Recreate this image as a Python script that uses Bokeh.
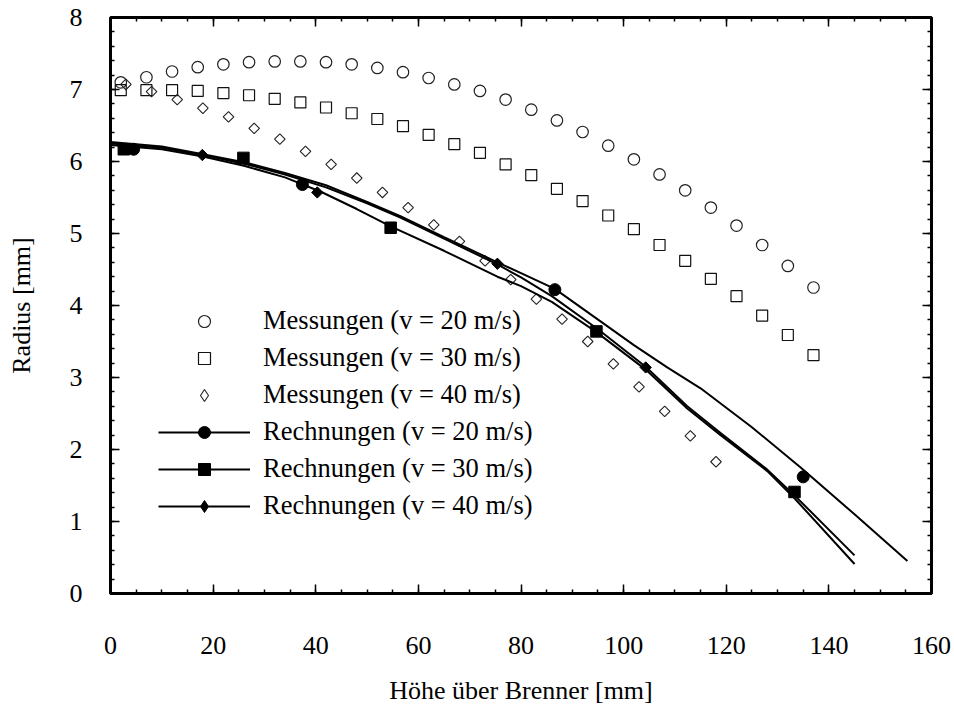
import numpy as np
from bokeh.plotting import figure
from bokeh.models import (Range1d, LinearAxis, SingleIntervalTicker, Legend, LegendItem,
                          CustomJSTickFormatter)
from bokeh.embed import file_html
from bokeh.resources import INLINE

FONT = "Liberation Serif"

# ---- data: measurements (Messungen) ----
m20_x = [2, 7, 12, 17, 22, 27, 32, 37, 42, 47, 52, 57, 62, 67, 72, 77, 82, 87, 92, 97,
         102, 107, 112, 117, 122, 127, 132, 137]
m20_y = [7.10, 7.17, 7.25, 7.31, 7.35, 7.38, 7.39, 7.39, 7.38, 7.35, 7.30, 7.24, 7.16, 7.07,
         6.98, 6.86, 6.72, 6.57, 6.41, 6.22, 6.03, 5.82, 5.60, 5.36, 5.11, 4.84, 4.55, 4.25]

m30_x = [2, 7, 12, 17, 22, 27, 32, 37, 42, 47, 52, 57, 62, 67, 72, 77, 82, 87, 92, 97,
         102, 107, 112, 117, 122, 127, 132, 137]
m30_y = [6.99, 6.99, 6.99, 6.98, 6.95, 6.92, 6.87, 6.82, 6.75, 6.67, 6.59, 6.49, 6.37, 6.24,
         6.12, 5.96, 5.81, 5.62, 5.45, 5.25, 5.06, 4.84, 4.62, 4.37, 4.13, 3.86, 3.59, 3.31]

m40_x = [3, 8, 13, 18, 23, 28, 33, 38, 43, 48, 53, 58, 63, 68, 73, 78, 83, 88, 93, 98,
         103, 108, 113, 118]
m40_y = [7.07, 6.97, 6.86, 6.74, 6.62, 6.46, 6.31, 6.14, 5.96, 5.77, 5.57, 5.36, 5.12, 4.89,
         4.62, 4.36, 4.09, 3.81, 3.50, 3.19, 2.87, 2.53, 2.19, 1.83]

# ---- data: calculations (Rechnungen), curves ----
r20_x = [0, 10, 18, 26, 34, 42, 50, 56.5, 65, 75.4, 80, 86.6, 95.5, 102, 108.5, 115, 125,
         134.5, 145, 155.3]
r20_y = [6.27, 6.21, 6.10, 5.99, 5.84, 5.67, 5.44, 5.24, 4.95, 4.60, 4.45, 4.23, 3.78, 3.45,
         3.14, 2.85, 2.31, 1.75, 1.10, 0.45]

r30_x = [0, 10, 18, 26, 34, 41, 48, 54.6, 65, 75.4, 80, 86, 94.7, 104.3, 112.4, 118.9, 128,
         133.2, 145]
r30_y = [6.23, 6.17, 6.07, 5.94, 5.78, 5.58, 5.34, 5.10, 4.76, 4.40, 4.27, 4.05, 3.63, 3.11,
         2.57, 2.20, 1.70, 1.33, 0.41]

r40_x = [0, 10, 18, 26, 34, 42, 50, 56.5, 65, 75.4, 80, 86, 95, 104.3, 112.4, 118.9, 128,
         133.2, 145]
r40_y = [6.25, 6.19, 6.09, 5.97, 5.82, 5.64, 5.42, 5.22, 4.93, 4.57, 4.39, 4.13, 3.67, 3.15,
         2.60, 2.23, 1.72, 1.37, 0.53]

# ---- data: calculation marker points ----
k20_x = [4.5, 37.4, 86.6, 135.0]
k20_y = [6.17, 5.68, 4.22, 1.62]
k30_x = [2.6, 25.9, 54.6, 94.7, 133.3]
k30_y = [6.17, 6.05, 5.08, 3.64, 1.41]
k40_x = [17.9, 40.3, 75.4, 104.3]
k40_y = [6.09, 5.57, 4.58, 3.14]

labels = ["Messungen (v = 20 m/s)", "Messungen (v = 30 m/s)", "Messungen (v = 40 m/s)",
          "Rechnungen (v = 20 m/s)", "Rechnungen (v = 30 m/s)", "Rechnungen (v = 40 m/s)"]

x_title = "Höhe über Brenner [mm]"
y_title = "Radius [mm]"

p = figure(frame_width=821, frame_height=576, x_range=Range1d(0, 160), y_range=Range1d(0, 8),
           output_backend="svg", toolbar_location=None,
           min_border_left=110, min_border_right=20, min_border_top=17, min_border_bottom=112)
p.outline_line_color = "black"
p.outline_line_width = 3
p.xgrid.grid_line_color = None
p.ygrid.grid_line_color = None
p.background_fill_color = "white"
p.border_fill_color = "white"

def style_axis(ax):
    ax.axis_line_color = None
    ax.major_tick_in = 9
    ax.major_tick_out = 0
    ax.minor_tick_in = 4
    ax.minor_tick_out = 0
    ax.major_tick_line_color = "black"
    ax.minor_tick_line_color = "black"
    ax.major_tick_line_width = 1.5
    ax.minor_tick_line_width = 1.5
    ax.major_label_text_font = FONT
    ax.major_label_text_font_size = "26px"
    ax.major_label_text_color = "black"
    ax.axis_label_text_font = FONT
    ax.axis_label_text_font_size = "26px"
    ax.axis_label_text_font_style = "normal"
    ax.axis_label_text_color = "black"

xax = p.xaxis[0]
yax = p.yaxis[0]
xax.ticker = SingleIntervalTicker(interval=20, num_minor_ticks=4)
yax.ticker = SingleIntervalTicker(interval=1, num_minor_ticks=5)
style_axis(xax)
style_axis(yax)
xax.axis_label = x_title
yax.axis_label = y_title
xax.major_label_standoff = 43
yax.major_label_standoff = 28
xax.axis_label_standoff = 19
yax.axis_label_standoff = 31

blank = CustomJSTickFormatter(code="return ''")
top = LinearAxis(ticker=SingleIntervalTicker(interval=20, num_minor_ticks=4), formatter=blank)
right = LinearAxis(ticker=SingleIntervalTicker(interval=1, num_minor_ticks=5), formatter=blank)
for ax in (top, right):
    style_axis(ax)
    ax.major_label_text_font_size = "0px"
    ax.major_label_standoff = 0
p.add_layout(top, "above")
p.add_layout(right, "right")

# measurements (hollow)
m20 = p.scatter(m20_x, m20_y, marker="circle", size=11.5, fill_color=None,
                line_color="#222222", line_width=1.2)
m30 = p.scatter(m30_x, m30_y, marker="square", size=11, fill_color=None,
                line_color="#111111", line_width=1.2)
m40 = p.scatter(m40_x, m40_y, marker="square", angle=np.pi / 4, size=7.5, fill_color=None,
                line_color="#222222", line_width=1.1)
m40_legend = p.scatter([np.nan], [np.nan], marker="diamond", size=11, fill_color=None,
                       line_color="#222222", line_width=1.1)

# calculations (lines + filled markers)
l20 = p.line(r20_x, r20_y, line_color="black", line_width=2)
l30 = p.line(r30_x, r30_y, line_color="black", line_width=2)
l40 = p.line(r40_x, r40_y, line_color="black", line_width=2)
k20 = p.scatter(k20_x, k20_y, marker="circle", size=12, color="black")
k30 = p.scatter(k30_x, k30_y, marker="square", size=11.5, color="black")
k40 = p.scatter(k40_x, k40_y, marker="square", angle=np.pi / 4, size=8, color="black")
k40_legend = p.scatter([np.nan], [np.nan], marker="diamond", size=11, color="black")

legend = Legend(items=[
    LegendItem(label=labels[0], renderers=[m20]),
    LegendItem(label=labels[1], renderers=[m30]),
    LegendItem(label=labels[2], renderers=[m40_legend]),
    LegendItem(label=labels[3], renderers=[l20, k20]),
    LegendItem(label=labels[4], renderers=[l30, k30]),
    LegendItem(label=labels[5], renderers=[l40, k40_legend]),
], location=(48, 72), glyph_width=92, glyph_height=30, label_height=30, spacing=6,
    padding=0, margin=0, label_standoff=13, border_line_color=None,
    background_fill_alpha=0, label_text_font=FONT, label_text_font_size="26.5px",
    label_text_color="black")
p.add_layout(legend)

open("out.html", "w").write(file_html(p, INLINE))
